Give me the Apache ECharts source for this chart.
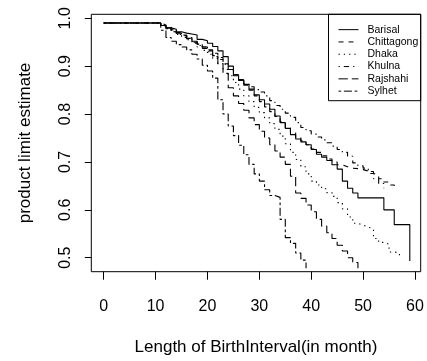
<!DOCTYPE html>
<html lang="en">
<head>
    <meta charset="UTF-8">
    <title>product limit estimate by division</title>
    <script src="https://cdn.jsdelivr.net/npm/echarts@6/dist/echarts.min.js"></script>
    <style>
        html, body { margin: 0; padding: 0; background: #fff; }
        #graph { width: 427px; height: 361px; }
    </style>
</head>
<body>
<div id="graph"></div>
<script>
    // months 0..59
    var months = [];
    for (var m = 0; m <= 59; m++) { months.push(m); }

    var divisions = ['Barisal', 'Chittagong', 'Dhaka', 'Khulna', 'Rajshahi', 'Sylhet'];

    var barisal = [0.99,0.99,0.99,0.99,0.99,0.99,0.99,0.99,0.99,0.99,0.99,
        0.985,0.98,0.977,0.972,0.969,0.967,0.965,0.956,0.953,0.948,
        0.941,0.932,0.92,0.9,0.88,0.87,0.862,0.852,0.84,0.83,
        0.821,0.81,0.796,0.782,0.77,0.757,0.748,0.742,0.736,0.726,
        0.716,0.71,0.703,0.694,0.685,0.66,0.645,0.635,0.625,0.625,
        0.625,0.625,0.625,0.6,0.6,0.569,0.569,0.569,0.493];
    var chittagong = [0.99,0.99,0.99,0.99,0.99,0.99,0.99,0.99,0.99,0.99,0.99,
        0.986,0.981,0.976,0.97,0.965,0.96,0.953,0.946,0.94,0.934,
        0.927,0.918,0.905,0.893,0.882,0.872,0.86,0.85,0.838,0.826,
        0.815,0.805,0.795,0.784,0.772,0.761,0.752,0.744,0.736,0.727,
        0.72,0.713,0.706,0.7,0.694,0.69,0.687,0.686,0.684,0.681,
        0.676,0.672,0.665,0.658,0.652,0.65];
    var dhaka = [0.99,0.99,0.99,0.99,0.99,0.99,0.99,0.99,0.99,0.99,0.99,
        0.985,0.978,0.972,0.966,0.96,0.955,0.948,0.94,0.933,0.925,
        0.916,0.905,0.893,0.88,0.866,0.852,0.838,0.826,0.814,0.803,
        0.792,0.78,0.768,0.754,0.738,0.72,0.705,0.69,0.675,0.66,
        0.652,0.644,0.636,0.628,0.615,0.602,0.585,0.572,0.568,0.564,
        0.56,0.54,0.532,0.528,0.512,0.51,0.503];
    var khulna = [0.99,0.99,0.99,0.99,0.99,0.99,0.99,0.99,0.99,0.99,0.99,
        0.984,0.978,0.972,0.966,0.962,0.957,0.95,0.943,0.937,0.93,
        0.922,0.914,0.904,0.893,0.882,0.871,0.863,0.857,0.851,0.846,
        0.838,0.828,0.818,0.81,0.802,0.793,0.782,0.772,0.765,0.758,
        0.752,0.746,0.74,0.733,0.726,0.72,0.712,0.698,0.692,0.687,
        0.68,0.665,0.655,0.645];
    var rajshahi = [0.99,0.99,0.99,0.99,0.99,0.99,0.99,0.99,0.99,0.99,0.99,
        0.985,0.98,0.975,0.969,0.964,0.958,0.952,0.946,0.94,0.932,
        0.92,0.905,0.885,0.855,0.838,0.822,0.808,0.792,0.778,0.764,
        0.75,0.736,0.723,0.71,0.695,0.67,0.635,0.624,0.61,0.596,
        0.58,0.566,0.552,0.54,0.526,0.514,0.5,0.49,0.478];
    var sylhet = [0.99,0.99,0.99,0.99,0.99,0.99,0.99,0.99,0.99,0.99,0.99,
        0.975,0.96,0.952,0.945,0.94,0.934,0.925,0.915,0.902,0.89,
        0.875,0.83,0.8,0.775,0.755,0.735,0.715,0.695,0.675,0.66,
        0.642,0.63,0.626,0.58,0.542,0.53,0.51,0.495,0.478];

    var xTicks = [0, 10, 20, 30, 40, 50, 60];
    var yTicks = [0.5, 0.6, 0.7, 0.8, 0.9, 1.0];

    // R lty 1..6
    var dashes = ['solid', [5, 5], [1.3, 4], [1.3, 4, 5.3, 4], [9.3, 4], [2.7, 2.7, 8, 2.7]];

    var values = [barisal, chittagong, dhaka, khulna, rajshahi, sylhet];

    var myChart = echarts.init(document.getElementById('graph'));

    var series = [];
    for (var i = 0; i < divisions.length; i++) {
        var pts = [];
        for (var j = 0; j < values[i].length; j++) {
            pts.push([months[j], values[i][j]]);
        }
        series.push({
            name: divisions[i],
            type: 'line',
            step: 'end',
            symbol: 'circle',
            symbolSize: 0,
            showSymbol: false,
            animation: false,
            lineStyle: { color: '#000', width: 1.1, type: dashes[i] },
            itemStyle: { color: '#000', opacity: 0 },
            data: pts
        });
    }

    var font = 'Liberation Sans, Arial, sans-serif';

    var option = {
        animation: false,
        grid: {
            left: 91.3, right: 6.3, top: 14.3, bottom: 89.3,
            show: true, borderColor: '#000', borderWidth: 1, backgroundColor: 'transparent'
        },
        legend: {
            orient: 'vertical',
            left: 338, top: 23.5,
            padding: 0,
            itemWidth: 20, itemHeight: 12.3, itemGap: 0,
            itemStyle: { opacity: 0 },
            lineStyle: { width: 1 },
            textStyle: { fontFamily: font, fontSize: 10.5, lineHeight: 12.3, color: '#000', padding: [0, 0, 0, 4] },
            data: divisions
        },
        graphic: [{
            type: 'rect',
            shape: { x: 328.5, y: 14.3, width: 92.2, height: 86.4 },
            style: { fill: 'transparent', stroke: '#000', lineWidth: 1 },
            z: 10
        }],
        xAxis: {
            type: 'value',
            min: -2.39, max: 61.1,
            name: 'Length of BirthInterval(in month)',
            nameLocation: 'middle',
            nameGap: 67,
            nameTextStyle: { fontFamily: font, fontSize: 17, color: '#000' },
            axisLine: { show: false, onZero: false },
            splitLine: { show: false },
            axisTick: { show: true, inside: false, length: 8, customValues: xTicks, lineStyle: { color: '#000' } },
            axisLabel: { customValues: xTicks, margin: 27, fontFamily: font, fontSize: 16, color: '#000' }
        },
        yAxis: {
            type: 'value',
            min: 0.4708, max: 1.0083,
            name: 'product limit estimate',
            nameLocation: 'middle',
            nameRotate: 90,
            nameGap: 57,
            nameTextStyle: { fontFamily: font, fontSize: 17, color: '#000' },
            axisLine: { show: false, onZero: false },
            splitLine: { show: false },
            axisTick: { show: true, inside: false, length: 6.5, customValues: yTicks, lineStyle: { color: '#000' } },
            axisLabel: {
                customValues: yTicks, rotate: 90, margin: 18,
                fontFamily: font, fontSize: 16, color: '#000',
                formatter: function (v) { return v.toFixed(1); }
            }
        },
        series: series
    };

    myChart.setOption(option);
</script>
</body>
</html>
